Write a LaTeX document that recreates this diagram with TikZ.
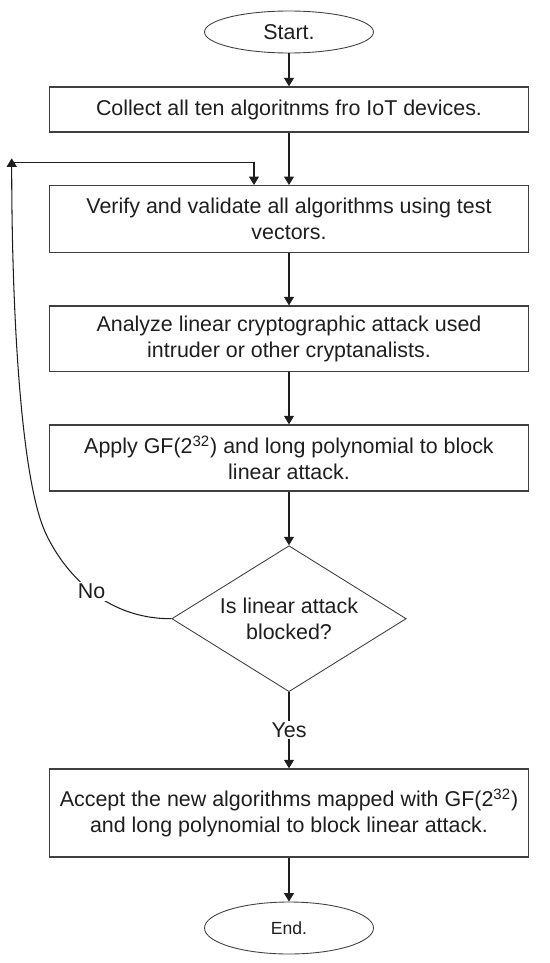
\documentclass[tikz,border=0pt]{standalone}
\usepackage{fontspec}
\setmainfont{Liberation Sans}
\usepackage{tikz}
\usetikzlibrary{arrows.meta,shapes.geometric}
\definecolor{inkc}{RGB}{30,30,30}
\tikzset{
  txt/.style={font=\fontsize{12.2}{14.8}\selectfont,text=inkc,align=center},
  term/.style={ellipse,draw=inkc!85,line width=0.5pt,inner sep=0pt,minimum width=3.38cm,txt},
  proc/.style={rectangle,draw=inkc!85,line width=0.8pt,minimum width=9.58cm,inner sep=0pt,txt},
  dec/.style={diamond,draw=inkc!85,line width=0.5pt,aspect=1.6,inner sep=0pt,minimum width=4.69cm,minimum height=2.92cm,txt},
  flow/.style={-{Triangle[length=1.7mm,width=2mm]},line width=0.6pt,inkc},
  lbl/.style={fill=white,inner sep=1pt,txt},
}

\begin{document}
\begin{tikzpicture}[x=0.02cm,y=-0.02cm]
  \useasboundingbox (0,0) rectangle (550,963);
  % steps, top to bottom
  \node[term,minimum height=0.84cm] (start) at (289,32) {Start.};
  \node[proc,minimum height=0.9cm] (collect) at (289,109.5) {Collect all ten algoritnms fro IoT devices.};
  \node[proc,minimum height=1.34cm] (verify) at (289,219.2) {Verify and validate all algorithms using test\\vectors.};
  \node[proc,minimum height=1.31cm] (analyze) at (289,338.8) {Analyze linear cryptographic attack used\\intruder or other cryptanalists.};
  \node[proc,minimum height=1.32cm] (apply) at (289,458) {Apply GF(2\textsuperscript{32}) and long polynomial to block\\linear attack.};
  \node[dec] (blocked) at (289,618.7) {Is linear attack\\blocked?};
  \node[proc,minimum height=1.76cm] (accept) at (289,813) {Accept the new algorithms mapped with GF(2\textsuperscript{32})\\and long polynomial to block linear attack.};
  \node[term,minimum height=1.04cm,font=\fontsize{10}{12}\selectfont] (end) at (289,928) {End.};
  % arrows
  \draw[flow] (start) -- (collect);
  \draw[flow] (collect) -- (verify);
  \draw[flow] (verify) -- (analyze);
  \draw[flow] (analyze) -- (apply);
  \draw[flow] (apply) -- (blocked);
  \draw[flow] (blocked) -- node[lbl] (yes) {Yes} (accept);
  \draw[flow] (accept) -- (end);
  % loop back (no)
  \coordinate (bend) at (45.6,533);
  \coordinate (tip) at (11.7,158.3);
  \draw[flow] (blocked.west) .. controls (102.6,619) and (62.4,569.4) .. (bend) node[lbl,pos=0.48] (no) {No}
    .. controls (20.4,478.4) and (11.7,308) .. (tip);
  \coordinate (back) at (11.7,162.7);
  \coordinate (turn) at (254,162.7);
  \draw[flow] (back) -- (turn) -- (turn |- verify.north);
\end{tikzpicture}
\end{document}
